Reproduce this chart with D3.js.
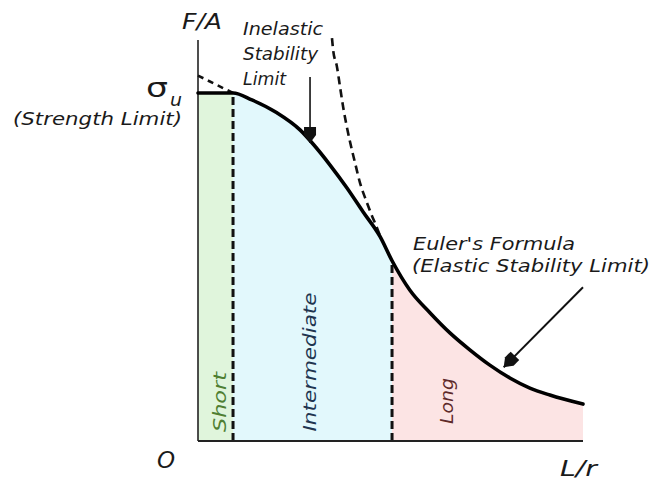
<!DOCTYPE html>
<html>
<head>
<meta charset="utf-8">
<script src="https://cdn.jsdelivr.net/npm/d3@7"></script>
<style>
  body { margin: 0; background: #fff; }
  svg { display: block; font-family: "DejaVu Sans", Verdana, sans-serif; }
</style>
</head>
<body>
<div id="chart"></div>
<script>
// Column buckling diagram: critical stress F/A against slenderness L/r
// values in % of the strength limit (y) and % of the plotted L/r range (x)

// solid curve: strength plateau, Johnson parabola, then Euler
const slenderness = [0, 9.1, 14, 20.5, 26.5, 30, 34.3, 38.7, 42.9, 47.3, 50.4, 55, 60.3, 65.5, 70.6, 75.8, 81, 86.2, 91.4, 100];
const stress      = [100, 100, 98, 94.3, 89.4, 85.2, 79.3, 72.7, 65.8, 58.7, 51.8, 43.4, 36.8, 31, 26.2, 21.8, 18.1, 15.2, 13.2, 10.6];

// dashed Euler curve continued above the tangent point
const eulerExtLR = [34.8, 35.1, 36.1, 36.9, 37.7, 39.5, 40.8, 42.1, 43.6, 44.9, 46.5, 47.4];
const eulerExtFA = [115.8, 112.4, 107.5, 101.7, 96, 85.9, 79.9, 74.1, 69.3, 65.5, 61.2, 58.6];

// short dashed piece above the strength limit
const parabExtLR = [0, 9.1];
const parabExtFA = [105, 100];

// zones along L/r
const zones = ['Short', 'Intermediate', 'Long'];
const zoneEdges = [0, 9.1, 50.4, 100];

const zoneColor = ['#e0f5dc', '#e2f8fc', '#fce4e4'];
const zoneText  = ['#4f7f32', '#1f3550', '#5e2a2a'];

const width = 655, height = 483;
const yTop = 115.2; // top of F/A axis

const x = d3.scaleLinear().domain([0, 100]).range([198, 583]);
const y = d3.scaleLinear().domain([0, 100]).range([441, 93]);

const svg = d3.select('#chart').append('svg')
  .attr('width', width)
  .attr('height', height)
  .attr('viewBox', [0, 0, width, height]);

svg.append('rect').attr('width', width).attr('height', height).attr('fill', '#fff');

const pts = slenderness.map((d, i) => [d, stress[i]]);

const area = d3.area()
  .x(d => x(d[0]))
  .y0(y(0))
  .y1(d => y(d[1]))
  .curve(d3.curveMonotoneX);

const line = d3.line()
  .x(d => x(d[0]))
  .y(d => y(d[1]))
  .curve(d3.curveMonotoneX);

// zone fills, each a clip of the full area under the curve
const defs = svg.append('defs');
zones.forEach((z, i) => {
  defs.append('clipPath').attr('id', 'clip-' + i)
    .append('rect')
    .attr('x', x(zoneEdges[i]))
    .attr('y', 0)
    .attr('width', x(zoneEdges[i + 1]) - x(zoneEdges[i]))
    .attr('height', height);
  svg.append('path')
    .datum(pts)
    .attr('d', area)
    .attr('fill', zoneColor[i])
    .attr('clip-path', `url(#clip-${i})`);
});

// zone boundaries (dashed)
const curveAt = lr => {
  const i = slenderness.indexOf(lr);
  return stress[i];
};
[zoneEdges[1], zoneEdges[2]].forEach(lr => {
  svg.append('line')
    .attr('x1', x(lr)).attr('x2', x(lr))
    .attr('y1', y(0)).attr('y2', y(curveAt(lr)))
    .attr('stroke', '#111')
    .attr('stroke-width', 3)
    .attr('stroke-dasharray', '8,4');
});

// axes
svg.append('line')
  .attr('x1', x(0)).attr('x2', x(0))
  .attr('y1', y(0)).attr('y2', y(yTop))
  .attr('stroke', '#222').attr('stroke-width', 1.6);
svg.append('line')
  .attr('x1', x(0)).attr('x2', x(100))
  .attr('y1', y(0)).attr('y2', y(0))
  .attr('stroke', '#222').attr('stroke-width', 2);

// dashed inelastic limit pieces
svg.append('path')
  .datum(eulerExtLR.map((d, i) => [d, eulerExtFA[i]]))
  .attr('d', line)
  .attr('fill', 'none')
  .attr('stroke', '#111')
  .attr('stroke-width', 2.6)
  .attr('stroke-dasharray', '8,5');
svg.append('path')
  .datum(parabExtLR.map((d, i) => [d, parabExtFA[i]]))
  .attr('d', line)
  .attr('fill', 'none')
  .attr('stroke', '#111')
  .attr('stroke-width', 2.6)
  .attr('stroke-dasharray', '6,5');

// main curve
svg.append('path')
  .datum(pts)
  .attr('d', line)
  .attr('fill', 'none')
  .attr('stroke', '#000')
  .attr('stroke-width', 3.6)
  .attr('stroke-linecap', 'round');

// arrows
function arrow(x1, y1, x2, y2, w) {
  const ang = Math.atan2(y2 - y1, x2 - x1) * 180 / Math.PI;
  svg.append('line')
    .attr('x1', x1).attr('y1', y1).attr('x2', x2).attr('y2', y2)
    .attr('stroke', '#111').attr('stroke-width', w);
  svg.append('path')
    .attr('d', 'M0,0 L-8,-6 L-16,-6 L-16,6 L-8,6 Z')
    .attr('transform', `translate(${x2},${y2}) rotate(${ang})`)
    .attr('fill', '#111');
}
arrow(x(29.1), y(104.6), x(29.1), y(85.6), 1.6);
arrow(x(100), y(44.2), x(79.4), y(21.2), 2);

// text
const txt = (s, px, py, size, opts = {}) => {
  const t = svg.append('text')
    .attr('x', px).attr('y', py)
    .attr('font-size', size)
    .attr('font-style', opts.italic === false ? 'normal' : 'italic')
    .attr('fill', opts.fill || '#1a1a1a')
    .text(s);
  if (opts.len) t.attr('textLength', opts.len).attr('lengthAdjust', 'spacingAndGlyphs');
  if (opts.anchor) t.attr('text-anchor', opts.anchor);
  return t;
};

txt('F/A', 182, 29, 21, { len: 40 });
txt('O', 157, 468, 23);
txt('L/r', 560, 476, 22, { len: 37 });

txt('Inelastic', 243, 35, 18, { len: 80 });
txt('Stability', 243, 60, 18, { len: 75 });
txt('Limit', 243, 85, 18, { len: 43 });

txt('\u03c3', 146, 97, 26, { italic: false, len: 22 });
txt('u', 170, 106, 17, { len: 12 });
txt('(Strength Limit)', 13, 125, 17, { len: 169 });

txt("Euler's Formula", 413, 250, 17, { len: 162 });
txt('(Elastic Stability Limit)', 412, 272, 17, { len: 238 });

// zone names, rotated
const zoneLabelY = [402, 362, 401];
const zoneLabelX = [220, 310, 447];
const zoneLabelLen = [60, 139, 46];
zones.forEach((z, i) => {
  svg.append('text')
    .attr('transform', `translate(${zoneLabelX[i]},${zoneLabelY[i]}) rotate(-90)`)
    .attr('text-anchor', 'middle')
    .attr('dy', '0.36em')
    .attr('font-size', 17)
    .attr('font-style', 'italic')
    .attr('fill', zoneText[i])
    .attr('textLength', zoneLabelLen[i])
    .attr('lengthAdjust', 'spacingAndGlyphs')
    .text(z);
});
</script>
</body>
</html>
